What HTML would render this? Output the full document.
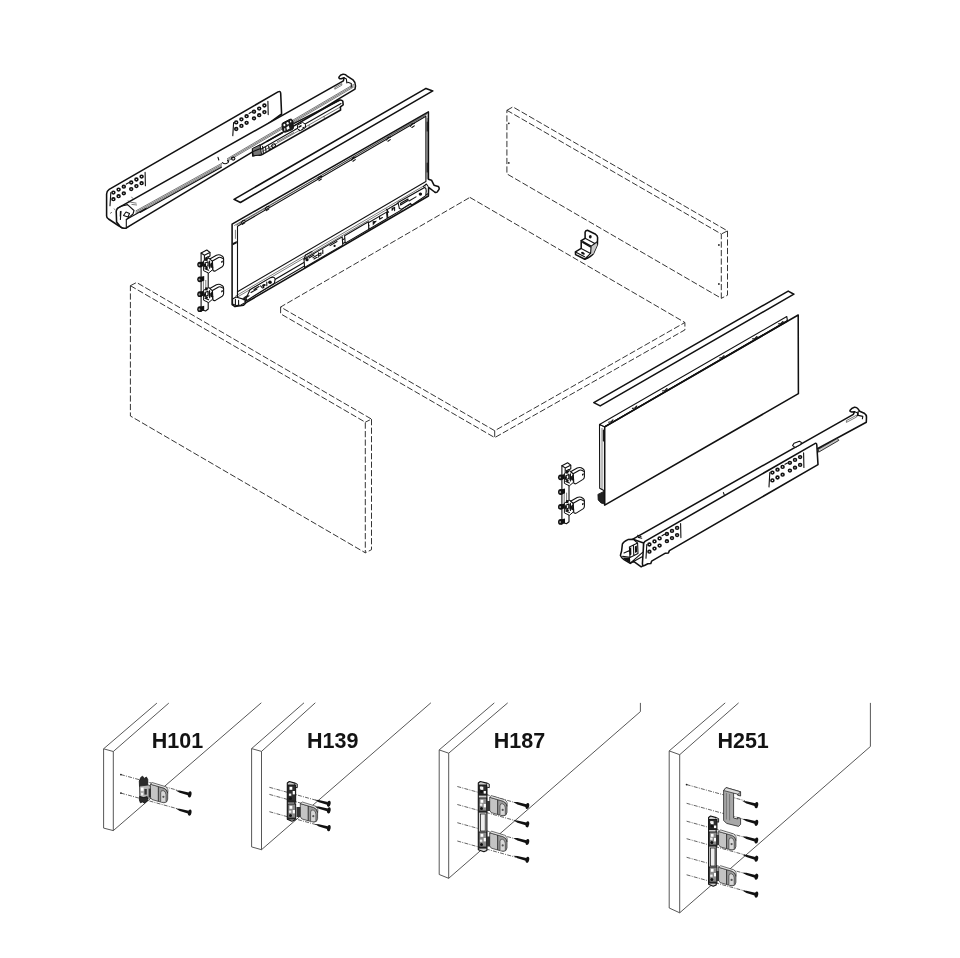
<!DOCTYPE html>
<html><head><meta charset="utf-8"><title>Drawer exploded view</title>
<style>
html,body{margin:0;padding:0;background:#fff;}
body{width:960px;height:958px;overflow:hidden;font-family:"Liberation Sans",sans-serif;}
svg{display:block}
.d{fill:none;stroke:#2a2a2a;stroke-width:.95;stroke-dasharray:6.2 2.3;}
.dw{fill:#fff;stroke:#2a2a2a;stroke-width:.95;stroke-dasharray:6.2 2.3;}
.k{fill:none;stroke:#111;stroke-width:1.55;stroke-linejoin:round;stroke-linecap:round;}
.kw{fill:#fff;stroke:#111;stroke-width:1.55;stroke-linejoin:round;stroke-linecap:round;}
.m{fill:none;stroke:#111;stroke-width:1.1;stroke-linejoin:round;stroke-linecap:round;}
.mw{fill:#fff;stroke:#111;stroke-width:1.1;stroke-linejoin:round;}
.t{fill:none;stroke:#222;stroke-width:.6;stroke-linejoin:round;}
.tw{fill:#fff;stroke:#222;stroke-width:.6;stroke-linejoin:round;}
.g{fill:none;stroke:#444;stroke-width:.9;}
.gw{fill:#fff;stroke:#444;stroke-width:.9;}
.b{fill:#111;stroke:none;}
.gr{fill:#aaa;stroke:#222;stroke-width:.7;stroke-linejoin:round;}
.dd{fill:none;stroke:#222;stroke-width:.7;stroke-dasharray:4 1.2 1 1.2;}
.lbl{font:bold 22px "Liberation Sans",sans-serif;fill:#111;}
</style></head><body>
<svg width="960" height="958" viewBox="0 0 960 958">
<rect width="960" height="958" fill="#fff"/>
<g id="panels">
<path class="d" d="M506.9,110.3 L721.3,234.0 L721.3,298.3 L506.9,173.9 Z" />
<path class="d" d="M506.9,110.3 L512.9,106.9 L727.5,230.9 L721.3,234.0" />
<path class="d" d="M727.5,230.9 L727.5,295.2 L721.3,298.3" />
<circle cx="508.8" cy="123.3" r=".9" fill="#222"/>
<circle cx="508.8" cy="162.9" r=".9" fill="#222"/>
<circle cx="718.9" cy="245" r=".9" fill="#222"/>
<circle cx="718.9" cy="284" r=".9" fill="#222"/>
<path class="d" d="M469.9,197.4 L684.9,322.5 L494.7,430.7 L280.6,307.0 Z" />
<path class="d" d="M280.6,307.0 L280.6,313.8 L494.7,437.6 L684.9,329.9 L684.9,322.5" />
<line class="d" x1="494.7" y1="430.7" x2="494.7" y2="437.6" />
<path class="d" d="M130.4,285.7 L365.3,422.2 L365.3,552.8 L130.4,416.0 Z" />
<path class="d" d="M130.4,285.7 L136.6,282.5 L371.5,419.1 L365.3,422.2" />
<path class="d" d="M371.5,419.1 L371.5,549.7 L365.3,552.8" />
</g>
<g id="runnerL">
<path class="kw" d="M106.6,216 L106.6,194 Q106.6,191 109.2,189.3 L278,91.9 Q280.6,90.5 280.7,93.5 L281.6,114 L126,228 Q122,229 119,226 L108.5,219 Q106.6,217.6 106.6,216 Z"/>
<ellipse cx="113.4" cy="192.6" rx="1.45" ry="1.35" fill="#fff" stroke="#111" stroke-width="1.6"/>
<ellipse cx="118.6" cy="189.6" rx="1.45" ry="1.35" fill="#fff" stroke="#111" stroke-width="1.6"/>
<ellipse cx="123.8" cy="186.7" rx="1.45" ry="1.35" fill="#fff" stroke="#111" stroke-width="1.6"/>
<ellipse cx="131.2" cy="182.5" rx="1.45" ry="1.35" fill="#fff" stroke="#111" stroke-width="1.6"/>
<ellipse cx="136.4" cy="179.5" rx="1.45" ry="1.35" fill="#fff" stroke="#111" stroke-width="1.6"/>
<ellipse cx="141.6" cy="176.6" rx="1.45" ry="1.35" fill="#fff" stroke="#111" stroke-width="1.6"/>
<ellipse cx="113.4" cy="199.2" rx="1.45" ry="1.35" fill="#fff" stroke="#111" stroke-width="1.6"/>
<ellipse cx="118.6" cy="196.2" rx="1.45" ry="1.35" fill="#fff" stroke="#111" stroke-width="1.6"/>
<ellipse cx="123.8" cy="193.3" rx="1.45" ry="1.35" fill="#fff" stroke="#111" stroke-width="1.6"/>
<ellipse cx="131.2" cy="189.1" rx="1.45" ry="1.35" fill="#fff" stroke="#111" stroke-width="1.6"/>
<ellipse cx="136.4" cy="186.1" rx="1.45" ry="1.35" fill="#fff" stroke="#111" stroke-width="1.6"/>
<ellipse cx="141.6" cy="183.2" rx="1.45" ry="1.35" fill="#fff" stroke="#111" stroke-width="1.6"/>
<line class="m" x1="126.3" y1="184.1" x2="128.7" y2="182.7" />
<line class="m" x1="110.8" y1="192.6" x2="110.0" y2="205.7" stroke-width="1.6"/>
<line class="m" x1="145.1" y1="172.4" x2="145.4" y2="185.8" stroke-width="1.7"/>
<ellipse cx="236.2" cy="122.4" rx="1.45" ry="1.35" fill="#fff" stroke="#111" stroke-width="1.6"/>
<ellipse cx="241.4" cy="119.3" rx="1.45" ry="1.35" fill="#fff" stroke="#111" stroke-width="1.6"/>
<ellipse cx="246.6" cy="116.2" rx="1.45" ry="1.35" fill="#fff" stroke="#111" stroke-width="1.6"/>
<ellipse cx="254.0" cy="111.7" rx="1.45" ry="1.35" fill="#fff" stroke="#111" stroke-width="1.6"/>
<ellipse cx="259.2" cy="108.6" rx="1.45" ry="1.35" fill="#fff" stroke="#111" stroke-width="1.6"/>
<ellipse cx="264.4" cy="105.5" rx="1.45" ry="1.35" fill="#fff" stroke="#111" stroke-width="1.6"/>
<ellipse cx="236.2" cy="129.0" rx="1.45" ry="1.35" fill="#fff" stroke="#111" stroke-width="1.6"/>
<ellipse cx="241.4" cy="125.9" rx="1.45" ry="1.35" fill="#fff" stroke="#111" stroke-width="1.6"/>
<ellipse cx="246.6" cy="122.8" rx="1.45" ry="1.35" fill="#fff" stroke="#111" stroke-width="1.6"/>
<ellipse cx="254.0" cy="118.3" rx="1.45" ry="1.35" fill="#fff" stroke="#111" stroke-width="1.6"/>
<ellipse cx="259.2" cy="115.2" rx="1.45" ry="1.35" fill="#fff" stroke="#111" stroke-width="1.6"/>
<ellipse cx="264.4" cy="112.1" rx="1.45" ry="1.35" fill="#fff" stroke="#111" stroke-width="1.6"/>
<line class="m" x1="249.1" y1="113.4" x2="251.5" y2="112.0" />
<line class="m" x1="233.6" y1="122.5" x2="232.8" y2="135.6" stroke-width="1.6"/>
<line class="m" x1="267.9" y1="101.2" x2="268.2" y2="114.6" stroke-width="1.7"/>
<path class="kw" d="M117.4,208.4 L343.4,80.8 L344,77.8 L341.2,78.7 Q338.4,78.8 339,77 Q340.2,74.8 343,74.3 Q345.4,74.1 346.8,75.8 L353,79.8 Q355.4,81.8 355.5,85.9 L355,89.2 L340.8,97.6 L253,151.6 L126.3,227.9 Q122.5,229 120,226.3 L116.6,222 L116.2,211 Z"/>
<path class="m" d="M344,77.8 L346.4,79 L346.8,83 M347.8,82.2 L351.3,83.4 L351.3,87"/>
<path class="t" d="M334.8,87.6 L341.8,83.6 L341.8,85.2 L334.8,89.2 Z" fill="#bbb"/>
<line class="t" x1="135.6" y1="211.0" x2="222.0" y2="163.2" stroke="#666" stroke-width=".5"/>
<line class="t" x1="227.0" y1="158.9" x2="353.8" y2="84.3" stroke="#666" stroke-width=".5"/>
<line class="t" x1="135.6" y1="212.3" x2="222.0" y2="164.5" stroke="#666" stroke-width=".5"/>
<line class="t" x1="227.0" y1="160.2" x2="353.8" y2="85.6" stroke="#666" stroke-width=".5"/>
<line class="t" x1="135.6" y1="213.6" x2="222.0" y2="165.8" stroke="#666" stroke-width=".5"/>
<line class="t" x1="227.0" y1="161.5" x2="353.8" y2="86.9" stroke="#666" stroke-width=".5"/>
<line class="m" x1="140.0" y1="212.4" x2="221.4" y2="167.2" stroke-width=".9"/>
<line class="m" x1="126.3" y1="219.6" x2="146.0" y2="208.4" />
<path class="m" d="M117.4,208.4 L121,206.2 L127.5,204.6 L134,210.5 L133,214 L126.3,219.6 L126.3,227.5 M121,211.5 L120.4,219.5 M123.5,215.5 L126,212 L129.5,213.5 L128,217 Z"/>
<path class="t" d="M130.5,202.2 L136.5,203.2 M131.5,204.4 L137,205 M128,200.4 L130,202.6"/>
<path class="b" d="M119.9,211.2 l1.3,-.5 l-.4,5.5 l-1.1,.3 Z"/>
<line class="t" x1="110.0" y1="213.5" x2="112.0" y2="212.2" />
<line class="t" x1="114.0" y1="208.5" x2="115.2" y2="210.0" />
<line class="t" x1="131.5" y1="196.8" x2="132.8" y2="198.6" />
<path class="m" d="M218,157.4 L218.8,160 M222.4,162.6 Q225,164.8 228,162.6 Q229.4,161.2 227.6,160.4"/>
<ellipse cx="233.2" cy="158.6" rx="1.7" ry="1.5" class="m"/>
<path class="kw" d="M252.6,150.2 L256,147.6 L338,100.6 Q341.5,99.2 342.8,101.2 L343.2,104.8 L340.4,106.8 L340.6,110 L262,154.6 Q259.5,155.6 257.5,154.6 L252.8,156 Z"/>
<line class="m" x1="256.5" y1="151.8" x2="341.0" y2="103.6" />
<line class="t" x1="262.5" y1="151.4" x2="340.0" y2="107.2" />
<line class="k" x1="294.0" y1="123.4" x2="339.5" y2="100.4" stroke-width="2"/>
<path d="M282,124.4 Q281.8,123.4 283,122.8 L290,119.2 Q291.4,118.8 292.4,120 L293,121.4 L293.4,128 Q293.2,129 292.4,129.6 L285.4,132.2 Q284.2,132.4 283.4,131.4 L282.4,129.6 Z" fill="#1c1c1c" stroke="#111" stroke-width="1" stroke-linejoin="round"/>
<ellipse cx="284.4" cy="125" rx="1" ry="1.3" fill="#fff"/><ellipse cx="287.6" cy="123.2" rx="1.1" ry="1.3" fill="#fff"/><ellipse cx="290.7" cy="121.6" rx=".7" ry="1" fill="#fff"/>
<path d="M286.4,127.4 L288.6,125.6 L289.6,128.6 L287,130 Z" fill="#fff"/><path d="M284,128.6 l1.2,-.6 l.3,2.4 l-1.2,.5 Z" fill="#ddd"/>
<path d="M297.4,125.2 L302.6,122.4 L305.4,124.2 L305.6,127.6 L300.4,130.6 L297.6,129 Z" fill="#fff" stroke="#111" stroke-width="1"/>
<path class="b" d="M298.4,126.4 l3,-1.6 l.2,1.6 l-3,1.6 Z M302.4,127.6 l2.2,-1.2 l0,1.4 l-2.2,1.2 Z"/>
<circle cx="295.4" cy="129.4" r=".6" class="b"/><circle cx="299.6" cy="130.6" r=".6" class="b"/><circle cx="302" cy="129.8" r=".5" class="b"/>
<path d="M252.2,148.6 L260,144.8 L261.6,154.8 L253.4,155.8 Z" fill="#777" stroke="#111" stroke-width="1"/>
<path class="m" d="M253,151.6 L260.6,148.4 M262.6,146.4 L263.4,153.6 M265.6,147.6 L266,151.4 M268.6,146 L269.2,149.6 L270.8,148.6"/>
<ellipse cx="273.6" cy="145.6" rx="2" ry="1.7" class="m" transform="rotate(-30 273.6 145.6)"/>
<line class="k" x1="267.0" y1="141.4" x2="282.4" y2="132.8" stroke-width="2"/>
<line class="t" x1="277.0" y1="141.8" x2="294.0" y2="132.4" />
<line class="t" x1="309.0" y1="125.0" x2="309.3" y2="127.2" />
<line class="t" x1="324.0" y1="116.2" x2="324.3" y2="118.2" />
</g>
<g id="sideL">
<path class="kw" d="M234.0,199.3 L426.0,88.4 L432.8,90.9 L240.4,202.5 Z" />
<path class="kw" d="M232.1,224.1 L428.4,111.9 L428.4,179.2 L431.5,180.2 L434,185.2 L438.2,186.4 Q439.6,187.6 439,189.4 L437.2,192 Q436,193 434.6,192 L428.6,187.4 L428.4,196 L246,302.6 L243.5,305.2 L235,306.6 L232.1,304.6 Z"/>
<path class="mw" d="M237.5,226.3 L425.9,116.3 L425.9,181.5 L237.5,291.8 Z" />
<line class="t" x1="234.2" y1="225.6" x2="426.8" y2="114.6" />
<line class="t" x1="236.4" y1="225.2" x2="427.4" y2="113.4" stroke="#777"/>
<path class="m" d="M241.0,223.2 L242.6,220.8 L245.0,220.2 M242.4,224.4 L244.8,222.8" stroke-width="1.3"/>
<path class="m" d="M265.0,209.4 L266.6,207.0 L269.0,206.4 M266.4,210.6 L268.8,209.0" stroke-width="1.3"/>
<path class="m" d="M317.6,179.4 L319.2,177.0 L321.6,176.4 M319.0,180.6 L321.4,179.0" stroke-width="1.3"/>
<path class="m" d="M351.5,160.0 L353.1,157.6 L355.5,157.0 M352.9,161.2 L355.3,159.6" stroke-width="1.3"/>
<path class="m" d="M386.5,140.0 L388.1,137.6 L390.5,137.0 M387.9,141.2 L390.3,139.6" stroke-width="1.3"/>
<path class="m" d="M410.5,126.3 L412.1,123.9 L414.5,123.3 M411.9,127.5 L414.3,125.9" stroke-width="1.3"/>
<line class="t" x1="427.2" y1="118.0" x2="427.2" y2="179.0" stroke="#666"/>
<line class="m" x1="427.2" y1="122.0" x2="427.2" y2="131.0" stroke-width="1.4"/>
<line class="m" x1="427.2" y1="163.0" x2="427.2" y2="172.0" stroke-width="1.4"/>
<line class="t" x1="235.4" y1="229.8" x2="235.4" y2="238.8" />
<path class="b" d="M232.8,243 L236.8,241 L236.8,243.2 L232.8,245.2 Z"/>
<line class="m" x1="237.5" y1="291.8" x2="237.5" y2="297.0" />
<line class="t" x1="235.4" y1="296.2" x2="426.0" y2="184.6" />
<line class="t" x1="238.0" y1="296.7" x2="426.0" y2="186.6" stroke="#555"/>
<line class="m" x1="244.0" y1="297.6" x2="426.0" y2="191.0" />
<line class="m" x1="243.8" y1="301.5" x2="428.0" y2="193.7" stroke-width="1.3"/>
<line class="m" x1="237.5" y1="291.8" x2="237.5" y2="297.0" />
<path class="mw" d="M232.6,299 L236,297 L245,299.6 L245.4,302.4 L241,305 L236,305.6 L232.6,304 Z"/>
<path class="m" d="M235.4,299.4 L235.4,304.4 M238.6,300.4 L238.6,304.8 M244,300 L250,296.6 Q252,296.6 250.6,298.4 L245,301.6"/>
<path class="mw" d="M250.0,289.7 L270.6,277.6 Q275.4,276.2 275.0,279.8 L274.4,283.2 L247.0,300.4 L246.0,298.4 Z"/>
<circle cx="270" cy="282.2" r="1.8" class="b"/><circle cx="264.6" cy="285.1" r="1.1" class="b"/>
<path class="m" d="M254.0,289.5 L259.0,286.6 M260.6,285.9 L262.4,288.0 M266.8,282.0 L266.8,285.6"/>
<path class="b" d="M262.0,285.1 L264.0,283.9 L264.4,287.7 L263.0,288.5 Z"/>
<line class="m" x1="251.0" y1="292.5" x2="257.0" y2="289.0" stroke-width="1.6"/>
<line class="m" x1="243.0" y1="299.2" x2="249.0" y2="295.7" stroke-width="1.6"/>
<path class="mw" d="M304.0,259.3 L342.2,236.9 L342.8,245.1 L304.6,267.5 Z"/>
<circle cx="307" cy="259.7" r="1.6" class="b"/><circle cx="334.6" cy="245.9" r="1.1" class="b"/>
<line class="m" x1="309.0" y1="257.9" x2="314.0" y2="255.0" stroke-width="1.6"/>
<path class="m" d="M313.0,257.6 L321.0,252.9 L321.0,254.9 L314.0,259.0 M318.6,252.7 L318.6,256.9 M322.8,249.9 L322.8,253.5 M330.0,245.6 L337.0,241.5"/>
<path class="m" d="M304.0,259.3 L305.6,254.9 L312.0,251.6"/>
<path class="mw" d="M344.6,235.7 L368.4,221.8 L369.0,229.2 L345.2,243.1 Z"/>
<path class="mw" d="M368.4,222.8 L386.6,212.1 L387.2,218.6 L369.0,229.2 Z"/>
<path class="b" d="M372.6,221.3 L377.0,220.7 L372.8,225.6 Z"/>
<path class="m" d="M379.6,216.4 L379.6,219.2 L382.4,217.6"/>
<line class="m" x1="368.6" y1="225.5" x2="369.0" y2="225.3" />
<path class="mw" d="M387.2,209.6 L401.0,201.5 L401.6,209.9 L387.8,218.0 Z"/>
<path class="m" d="M392.4,208.7 L394.6,207.4 L394.6,210.6 M386.4,209.2 L388.6,212.3"/>
<path class="b" d="M391.6,208.2 L393.4,207.1 L393.4,209.9 L391.6,211.0 Z"/>
<path class="mw" d="M398.0,202.4 L424.6,187.5 Q426.4,188.2 426.2,190.7 L425.8,195.6 L411.6,205.3 L410.6,203.4 L401.6,209.3 L399.4,208.6 Z"/>
<circle cx="420.4" cy="194.1" r="1.7" class="b"/>
<path class="m" d="M400.6,203.3 L408.0,199.0 L408.0,200.6 L400.6,204.9 Z M409.0,201.0 L416.0,196.9"/>
<path class="m" d="M423.4,186.6 L426.4,184.0 L428.0,186.3"/>
</g>
<g id="right">
<path class="kw" d="M593.8,402.6 L788.2,291.1 L793.9,294.2 L600.2,405.9 Z" />
<path class="mw" d="M599.5,424.4 L604.7,426.8 L604.7,491 L599.7,488.2 Z"/>
<line class="t" x1="602.0" y1="428.0" x2="602.0" y2="490.0" />
<line class="m" x1="603.4" y1="430.0" x2="603.4" y2="441.0" stroke-width="1.3"/>
<path d="M597.9,494.4 L604.2,491.2 L604.6,504 L601,503 L598.2,500 Z" fill="#222" stroke="#111" stroke-width=".8"/>
<path class="mw" d="M599.5,424.4 L786.8,316.6 L787.4,320.6 L604.7,426.8 Z"/>
<path class="kw" d="M604.7,426.8 L798.2,315.0 L798.4,393.7 L604.7,505.2 Z" />
<line class="k" x1="604.7" y1="426.8" x2="787.4" y2="321.2" stroke-width="1.7"/>
<path class="m" d="M608.6,422.2 L611.0,421.8 L613.0,419.8" stroke-width="1.4"/>
<path class="m" d="M632.4,408.4 L634.8,408.0 L636.8,406.0" stroke-width="1.4"/>
<path class="m" d="M662.6,390.9 L665.0,390.5 L667.0,388.5" stroke-width="1.4"/>
<path class="m" d="M719.6,358.0 L722.0,357.6 L724.0,355.6" stroke-width="1.4"/>
<path class="m" d="M752.6,338.9 L755.0,338.5 L757.0,336.5" stroke-width="1.4"/>
<path class="m" d="M778.6,323.9 L781.0,323.5 L783.0,321.5" stroke-width="1.4"/>
<path class="kw" d="M632.9,539.2 L853.4,414.3 L854.5,411.7 L851.6,412 Q849.4,411.6 850.2,410.2 Q851.6,408 854.4,407.2 Q856.6,407 857.8,408.6 L859.7,411.2 L864.2,413.2 Q866.4,414.8 866.5,417 L866.3,422.2 L818.3,448.2 L640,552 Z"/>
<path class="m" d="M854.5,411.7 L857.4,412.8 L857.6,415.6 M858.2,411.4 L858.2,415.4 L862.8,416.4 L862.4,418.8"/>
<path class="t" d="M846.4,420.6 L856.6,415.2 L856.6,417 L846.4,422.4 Z" fill="#aaa"/>
<path d="M818.4,449.2 L837.4,438.4 L838.8,440.4 L818.6,452.2 Z" fill="#c4c4c4" stroke="#222" stroke-width=".9"/>
<path class="mw" d="M792.6,445.6 L794,443.2 L799.4,441.2 L801.4,442.4 L800.6,444.6 L795,447.4 Z"/>
<path class="kw" d="M632.9,539.2 L628,539.6 Q623.4,541.6 622.4,544 L621.6,551 L620.4,555.4 Q621,557.6 624,559.6 L630.3,563.4 L633.6,561.4 L641.2,566.8 L644,565 L643.6,543 Z"/>
<path class="m" d="M629.4,547 L637.6,543 L638,553.6 L630,557.4 Z M633.4,545.2 L633.8,555.4 M624,553 L629.6,550.4 M622.6,556.4 L630,557.4 M630.3,563.2 L642.6,552.4 M634,561.2 L642.6,556.4 M637.6,543 L634.4,540.4"/>
<path class="b" d="M634.8,546.4 l2,-.9 l.3,6.6 l-2,1 Z M629.6,548 l1.6,-.8 l.2,7.4 l-1.6,.8 Z"/>
<path class="b" d="M623,557.4 L630,558 L630.4,563 L624.4,559.6 Z"/>
<path class="m" d="M637.6,535.2 L641,536.4 M638.4,537.4 L641.8,538.2" stroke-width="1.3"/>
<path class="kw" d="M643.6,545 Q643.4,542.6 645,541.4 L814.4,443.8 Q816.6,442.4 816.8,445 L818,464.6 L669.4,550.6 L668.4,553 L665.4,553.2 L651.6,561.2 L650.8,563.6 L647.8,563.8 L645.4,565 Q642.6,566.8 642.4,563.6 Z"/>
<ellipse cx="649.4" cy="544.5" rx="1.45" ry="1.35" fill="#fff" stroke="#111" stroke-width="1.6"/>
<ellipse cx="654.5" cy="541.4" rx="1.45" ry="1.35" fill="#fff" stroke="#111" stroke-width="1.6"/>
<ellipse cx="659.6" cy="538.4" rx="1.45" ry="1.35" fill="#fff" stroke="#111" stroke-width="1.6"/>
<ellipse cx="666.9" cy="534.0" rx="1.45" ry="1.35" fill="#fff" stroke="#111" stroke-width="1.6"/>
<ellipse cx="672.0" cy="530.9" rx="1.45" ry="1.35" fill="#fff" stroke="#111" stroke-width="1.6"/>
<ellipse cx="677.1" cy="527.9" rx="1.45" ry="1.35" fill="#fff" stroke="#111" stroke-width="1.6"/>
<ellipse cx="649.4" cy="551.7" rx="1.45" ry="1.35" fill="#fff" stroke="#111" stroke-width="1.6"/>
<ellipse cx="654.5" cy="548.6" rx="1.45" ry="1.35" fill="#fff" stroke="#111" stroke-width="1.6"/>
<ellipse cx="659.6" cy="545.6" rx="1.45" ry="1.35" fill="#fff" stroke="#111" stroke-width="1.6"/>
<ellipse cx="666.9" cy="541.2" rx="1.45" ry="1.35" fill="#fff" stroke="#111" stroke-width="1.6"/>
<ellipse cx="672.0" cy="538.1" rx="1.45" ry="1.35" fill="#fff" stroke="#111" stroke-width="1.6"/>
<ellipse cx="677.1" cy="535.1" rx="1.45" ry="1.35" fill="#fff" stroke="#111" stroke-width="1.6"/>
<line class="m" x1="662.0" y1="535.7" x2="664.5" y2="534.3" />
<line class="m" x1="646.8" y1="544.6" x2="646.0" y2="558.3" stroke-width="1.6"/>
<line class="m" x1="680.6" y1="523.6" x2="680.9" y2="537.6" stroke-width="1.7"/>
<ellipse cx="772.4" cy="472.6" rx="1.45" ry="1.35" fill="#fff" stroke="#111" stroke-width="1.6"/>
<ellipse cx="777.5" cy="469.7" rx="1.45" ry="1.35" fill="#fff" stroke="#111" stroke-width="1.6"/>
<ellipse cx="782.6" cy="466.9" rx="1.45" ry="1.35" fill="#fff" stroke="#111" stroke-width="1.6"/>
<ellipse cx="789.9" cy="462.8" rx="1.45" ry="1.35" fill="#fff" stroke="#111" stroke-width="1.6"/>
<ellipse cx="795.0" cy="459.9" rx="1.45" ry="1.35" fill="#fff" stroke="#111" stroke-width="1.6"/>
<ellipse cx="800.1" cy="457.1" rx="1.45" ry="1.35" fill="#fff" stroke="#111" stroke-width="1.6"/>
<ellipse cx="772.4" cy="480.4" rx="1.45" ry="1.35" fill="#fff" stroke="#111" stroke-width="1.6"/>
<ellipse cx="777.5" cy="477.5" rx="1.45" ry="1.35" fill="#fff" stroke="#111" stroke-width="1.6"/>
<ellipse cx="782.6" cy="474.7" rx="1.45" ry="1.35" fill="#fff" stroke="#111" stroke-width="1.6"/>
<ellipse cx="789.9" cy="470.6" rx="1.45" ry="1.35" fill="#fff" stroke="#111" stroke-width="1.6"/>
<ellipse cx="795.0" cy="467.7" rx="1.45" ry="1.35" fill="#fff" stroke="#111" stroke-width="1.6"/>
<ellipse cx="800.1" cy="464.9" rx="1.45" ry="1.35" fill="#fff" stroke="#111" stroke-width="1.6"/>
<line class="m" x1="785.0" y1="464.3" x2="787.5" y2="462.9" />
<line class="m" x1="769.8" y1="472.6" x2="769.0" y2="486.9" stroke-width="1.6"/>
<line class="m" x1="803.6" y1="452.9" x2="803.9" y2="467.5" stroke-width="1.7"/>
<line class="m" x1="723.4" y1="492.6" x2="724.2" y2="494.6" />
</g>
<g id="fix">
<g transform="translate(0,0)">
<path class="mw" d="M201.1,253 L206.8,250 L210,252.4 L210,256 L208.2,257 L208.2,309 L205.6,311 L201.1,309.4 Z"/>
<path class="m" d="M201.1,253 L204.4,255.2 L204.4,260 M204.4,255.2 L209.8,252.6 M205.6,258 L208,256.8"/>
<path class="t" d="M203.4,281 L203.4,293 M205.8,280 L205.8,292"/>
<ellipse cx="199.9" cy="264.6" rx="2.7" ry="2.9" class="b"/>
<path class="b" d="M200,262.20000000000005 L204.2,261.20000000000005 L204.2,266.0 L200,267.20000000000005 Z"/>
<ellipse cx="199.4" cy="264.8" rx=".9" ry="1.1" fill="#999"/>
<ellipse cx="199.9" cy="279.3" rx="2.7" ry="2.9" class="b"/>
<path class="b" d="M200,276.90000000000003 L204.2,275.90000000000003 L204.2,280.7 L200,281.90000000000003 Z"/>
<ellipse cx="199.4" cy="279.5" rx=".9" ry="1.1" fill="#999"/>
<ellipse cx="199.9" cy="294.2" rx="2.7" ry="2.9" class="b"/>
<path class="b" d="M200,291.8 L204.2,290.8 L204.2,295.59999999999997 L200,296.8 Z"/>
<ellipse cx="199.4" cy="294.4" rx=".9" ry="1.1" fill="#999"/>
<ellipse cx="199.9" cy="309.2" rx="2.7" ry="2.9" class="b"/>
<path class="b" d="M200,306.8 L204.2,305.8 L204.2,310.59999999999997 L200,311.8 Z"/>
<ellipse cx="199.4" cy="309.4" rx=".9" ry="1.1" fill="#999"/>
<path d="M203.6,260.7 L209,258.09999999999997 L212.4,260.09999999999997 L212.6,269.7 L208.6,273.09999999999997 L203.6,270.7 Z" fill="#fff" stroke="#111" stroke-width="1"/>
<path class="m" d="M205,263.09999999999997 L208,261.7 L208,265.7 L205,267.09999999999997 Z M209.6,261.09999999999997 L209.6,268.3 M205,268.7 L208.6,270.3"/>
<circle cx="206.6" cy="268.09999999999997" r="1.3" class="b"/><rect x="205.2" y="257.9" width="2.4" height="3" class="b"/>
<path class="b" d="M204,264.3 l2,-1 l0,2.6 l-2,1 Z M208.6,262.09999999999997 l1.4,-.6 l0,5 l-1.4,.8 Z M210.4,263.7 l1.6,-.8 l.2,4 l-1.6,1 Z"/>
<path class="mw" d="M209.8,259.09999999999997 L216.4,255.29999999999998 Q218.4,254.29999999999998 220.4,255.1 L222.4,256.3 Q223.6,257.09999999999997 223.6,258.7 L223.6,264.09999999999997 Q223.6,265.7 222.2,266.7 L215.4,270.9 Q214,271.5 213,270.5 L212.4,261.09999999999997 Z"/>
<path class="m" d="M212.4,261.09999999999997 L218.6,257.5 Q220,256.9 221.4,257.7 L223.4,258.9 M212.2,262.7 Q210.6,263.7 210.8,265.7 Q211.4,267.7 212.8,267.09999999999997"/>
<path class="b" d="M221.2,261.3 l1.6,-.8 l0,1.8 l-1.6,.8 Z"/>
<path d="M203.6,290.2 L209,287.59999999999997 L212.4,289.59999999999997 L212.6,299.2 L208.6,302.59999999999997 L203.6,300.2 Z" fill="#fff" stroke="#111" stroke-width="1"/>
<path class="m" d="M205,292.59999999999997 L208,291.2 L208,295.2 L205,296.59999999999997 Z M209.6,290.59999999999997 L209.6,297.8 M205,298.2 L208.6,299.8"/>
<circle cx="206.6" cy="297.59999999999997" r="1.3" class="b"/><rect x="205.2" y="287.4" width="2.4" height="3" class="b"/>
<path class="b" d="M204,293.8 l2,-1 l0,2.6 l-2,1 Z M208.6,291.59999999999997 l1.4,-.6 l0,5 l-1.4,.8 Z M210.4,293.2 l1.6,-.8 l.2,4 l-1.6,1 Z"/>
<path class="mw" d="M209.8,288.59999999999997 L216.4,284.8 Q218.4,283.8 220.4,284.59999999999997 L222.4,285.8 Q223.6,286.59999999999997 223.6,288.2 L223.6,293.59999999999997 Q223.6,295.2 222.2,296.2 L215.4,300.4 Q214,301.0 213,300.0 L212.4,290.59999999999997 Z"/>
<path class="m" d="M212.4,290.59999999999997 L218.6,287.0 Q220,286.4 221.4,287.2 L223.4,288.4 M212.2,292.2 Q210.6,293.2 210.8,295.2 Q211.4,297.2 212.8,296.59999999999997"/>
<path class="b" d="M221.2,290.8 l1.6,-.8 l0,1.8 l-1.6,.8 Z"/>
</g>
<g transform="translate(360.8,212.7)">
<path class="mw" d="M201.1,253 L206.8,250 L210,252.4 L210,256 L208.2,257 L208.2,309 L205.6,311 L201.1,309.4 Z"/>
<path class="m" d="M201.1,253 L204.4,255.2 L204.4,260 M204.4,255.2 L209.8,252.6 M205.6,258 L208,256.8"/>
<path class="t" d="M203.4,281 L203.4,293 M205.8,280 L205.8,292"/>
<ellipse cx="199.9" cy="264.6" rx="2.7" ry="2.9" class="b"/>
<path class="b" d="M200,262.20000000000005 L204.2,261.20000000000005 L204.2,266.0 L200,267.20000000000005 Z"/>
<ellipse cx="199.4" cy="264.8" rx=".9" ry="1.1" fill="#999"/>
<ellipse cx="199.9" cy="279.3" rx="2.7" ry="2.9" class="b"/>
<path class="b" d="M200,276.90000000000003 L204.2,275.90000000000003 L204.2,280.7 L200,281.90000000000003 Z"/>
<ellipse cx="199.4" cy="279.5" rx=".9" ry="1.1" fill="#999"/>
<ellipse cx="199.9" cy="294.2" rx="2.7" ry="2.9" class="b"/>
<path class="b" d="M200,291.8 L204.2,290.8 L204.2,295.59999999999997 L200,296.8 Z"/>
<ellipse cx="199.4" cy="294.4" rx=".9" ry="1.1" fill="#999"/>
<ellipse cx="199.9" cy="309.2" rx="2.7" ry="2.9" class="b"/>
<path class="b" d="M200,306.8 L204.2,305.8 L204.2,310.59999999999997 L200,311.8 Z"/>
<ellipse cx="199.4" cy="309.4" rx=".9" ry="1.1" fill="#999"/>
<path d="M203.6,260.7 L209,258.09999999999997 L212.4,260.09999999999997 L212.6,269.7 L208.6,273.09999999999997 L203.6,270.7 Z" fill="#fff" stroke="#111" stroke-width="1"/>
<path class="m" d="M205,263.09999999999997 L208,261.7 L208,265.7 L205,267.09999999999997 Z M209.6,261.09999999999997 L209.6,268.3 M205,268.7 L208.6,270.3"/>
<circle cx="206.6" cy="268.09999999999997" r="1.3" class="b"/><rect x="205.2" y="257.9" width="2.4" height="3" class="b"/>
<path class="b" d="M204,264.3 l2,-1 l0,2.6 l-2,1 Z M208.6,262.09999999999997 l1.4,-.6 l0,5 l-1.4,.8 Z M210.4,263.7 l1.6,-.8 l.2,4 l-1.6,1 Z"/>
<path class="mw" d="M209.8,259.09999999999997 L216.4,255.29999999999998 Q218.4,254.29999999999998 220.4,255.1 L222.4,256.3 Q223.6,257.09999999999997 223.6,258.7 L223.6,264.09999999999997 Q223.6,265.7 222.2,266.7 L215.4,270.9 Q214,271.5 213,270.5 L212.4,261.09999999999997 Z"/>
<path class="m" d="M212.4,261.09999999999997 L218.6,257.5 Q220,256.9 221.4,257.7 L223.4,258.9 M212.2,262.7 Q210.6,263.7 210.8,265.7 Q211.4,267.7 212.8,267.09999999999997"/>
<path class="b" d="M221.2,261.3 l1.6,-.8 l0,1.8 l-1.6,.8 Z"/>
<path d="M203.6,290.2 L209,287.59999999999997 L212.4,289.59999999999997 L212.6,299.2 L208.6,302.59999999999997 L203.6,300.2 Z" fill="#fff" stroke="#111" stroke-width="1"/>
<path class="m" d="M205,292.59999999999997 L208,291.2 L208,295.2 L205,296.59999999999997 Z M209.6,290.59999999999997 L209.6,297.8 M205,298.2 L208.6,299.8"/>
<circle cx="206.6" cy="297.59999999999997" r="1.3" class="b"/><rect x="205.2" y="287.4" width="2.4" height="3" class="b"/>
<path class="b" d="M204,293.8 l2,-1 l0,2.6 l-2,1 Z M208.6,291.59999999999997 l1.4,-.6 l0,5 l-1.4,.8 Z M210.4,293.2 l1.6,-.8 l.2,4 l-1.6,1 Z"/>
<path class="mw" d="M209.8,288.59999999999997 L216.4,284.8 Q218.4,283.8 220.4,284.59999999999997 L222.4,285.8 Q223.6,286.59999999999997 223.6,288.2 L223.6,293.59999999999997 Q223.6,295.2 222.2,296.2 L215.4,300.4 Q214,301.0 213,300.0 L212.4,290.59999999999997 Z"/>
<path class="m" d="M212.4,290.59999999999997 L218.6,287.0 Q220,286.4 221.4,287.2 L223.4,288.4 M212.2,292.2 Q210.6,293.2 210.8,295.2 Q211.4,297.2 212.8,296.59999999999997"/>
<path class="b" d="M221.2,290.8 l1.6,-.8 l0,1.8 l-1.6,.8 Z"/>
</g>
<path class="kw" d="M585.1,232.2 Q585.4,230.6 587.4,230.3 L595.6,234.3 Q597.6,235.6 597.6,237.6 L597.4,244.5 L593.2,253.9 Q591,257 584.8,259.3 L575.6,254.6 L575.4,251.8 L581.2,248.4 L581.2,240.6 L585.1,238.3 Z" stroke-width="1.4"/>
<path d="M594.8,243.5 L597.4,244.5 L593.2,253.9 L590.6,253.4 L591.1,246.1 Z" fill="#c8c8c8" stroke="none"/>
<path class="m" d="M585.1,238.3 L594.8,243.5 L597.3,241.6 M581.2,240.6 L591.1,246.1 L594.8,243.5 M591.1,246.1 L590.6,253.4 M581.2,248.4 L590.6,253.4 L584.8,259 M575.5,252 L584.6,256.8 M582.6,242.6 L590.4,247"/>
<ellipse cx="590.3" cy="236.8" rx="1.4" ry="1.7" class="b"/>
<ellipse cx="582.9" cy="253.2" rx="2" ry="1.2" class="b" transform="rotate(28 582.9 253.2)"/>
</g>
<g id="bottom">
<path class="g" d="M103.6,748.8 L113.3,751.5 L113.3,830.6 L103.6,828.1 Z" />
<line class="g" x1="103.6" y1="748.8" x2="156.9" y2="703.1" />
<line class="g" x1="113.3" y1="751.5" x2="168.8" y2="703.1" />
<line class="g" x1="113.3" y1="830.6" x2="261.3" y2="702.8" />
<g opacity=".99"><text class="lbl" transform="translate(151.8,748.2) scale(.978,1.016)">H101</text><rect x="0" y="0" width="1" height="1" fill="none"/></g>
<line class="dd" x1="120.9" y1="774.6" x2="178.0" y2="790.4" />
<line class="dd" x1="120.9" y1="793.1" x2="178.0" y2="808.9" />
<circle cx="120.9" cy="774.6" r=".9" fill="#222"/><circle cx="120.9" cy="793.1" r=".9" fill="#222"/>
<path d="M139.3,781 L140.8,777.4 L142.6,776.2 L144.4,778.4 L146.4,777 L147.8,779.6 L147.6,786.4 L143,787.6 L139.5,786.4 Z" fill="#2a2a2a" stroke="#111" stroke-width=".8" stroke-linejoin="round"/>
<path d="M139.6,786 L148.4,785 L151,786.6 L151,797.6 L147.4,798.4 L139.8,797 Z" fill="#b4b4b4" stroke="#222" stroke-width=".8" stroke-linejoin="round"/>
<rect x="140.8" y="787.6" width="2.8" height="3.2" fill="#fff"/><rect x="144.4" y="789" width="2.4" height="5.6" fill="#333"/><rect x="141" y="793" width="2.2" height="2.4" fill="#eee"/>
<path d="M139.6,796.4 L143.6,797.6 L147.2,796.6 L147.8,800.4 L144.6,803.2 L142.4,802 L140.4,802.8 L139.4,800 Z" fill="#2a2a2a" stroke="#111" stroke-width=".8" stroke-linejoin="round"/>
<path d="M150.4,784.2 L158.4,786.5 L158.4,801.4 L151.9,799.5 L150.4,797.2 Z" fill="#c4c4c4" stroke="#222" stroke-width=".7" stroke-linejoin="round"/>
<path d="M158.4,786.5 L163.9,788.1 Q167.7,789.7 167.7,793.2 L167.7,799.2 Q167.4,802.8 163.9,802.8 L158.4,801.4 Z" fill="#9a9a9a" stroke="#222" stroke-width=".7" stroke-linejoin="round"/>
<path d="M160.7,801.8 L160.7,792.7 Q160.9,789.8 163.4,790.7 Q166.0,791.7 166.0,794.7 L166.0,801.7" fill="#d8d8d8" stroke="#222" stroke-width=".6"/>
<circle cx="163.4" cy="796.8" r="1.1" fill="#555"/>
<path d="M150.4,784.2 L152.4,782.6 L165.4,786.6 Q168.9,788.7 167.7,793.2 Q167.7,789.7 163.9,788.1 Z" fill="#e8e8e8" stroke="#222" stroke-width=".6" stroke-linejoin="round"/>
<rect x="148.6" y="788.6" width="2.4" height="8.4" fill="#333"/>
<path class="b" d="M175.7,790.4 L179.7,790.5 L188.7,792.6 L188.7,795.6 L179.7,792.8 Z"/>
<ellipse class="b" cx="189.7" cy="794.4" rx="1.8" ry="3.1" transform="rotate(10 189.7 794.4)"/>
<path class="b" d="M175.7,808.6 L179.7,808.7 L188.7,810.8 L188.7,813.8 L179.7,811.0 Z"/>
<ellipse class="b" cx="189.7" cy="812.6" rx="1.8" ry="3.1" transform="rotate(10 189.7 812.6)"/>
<path class="g" d="M251.6,748.6 L261.5,751.4 L261.5,849.7 L251.6,846.9 Z" />
<line class="g" x1="251.6" y1="748.6" x2="304.0" y2="702.8" />
<line class="g" x1="261.5" y1="751.4" x2="315.3" y2="702.8" />
<line class="g" x1="261.5" y1="849.7" x2="430.9" y2="702.8" />
<g opacity=".99"><text class="lbl" transform="translate(307.0,748.2) scale(.978,1.016)">H139</text><rect x="0" y="0" width="1" height="1" fill="none"/></g>
<line class="dd" x1="269.4" y1="787.3" x2="317.0" y2="800.5" />
<line class="dd" x1="269.4" y1="794.4" x2="317.0" y2="807.6" />
<line class="dd" x1="269.4" y1="811.7" x2="317.0" y2="824.9" />
<path d="M287.3,783.0 L289.3,781.5 L294.9,783.1 L294.9,820.0 L291.9,821.2 L287.3,819.2 Z" fill="#cfcfcf" stroke="#111" stroke-width="1.1" stroke-linejoin="round"/>
<path d="M294.9,783.1 L297.3,784.1 L297.3,787.7 L294.9,787.1" fill="#ddd" stroke="#111" stroke-width=".9" stroke-linejoin="round"/>
<rect x="287.9" y="785.0" width="7.8" height="17" fill="#2e2e2e" stroke="#111" stroke-width=".9"/>
<rect x="289.5" y="786.8" width="2.8" height="3" fill="#fff"/>
<rect x="292.7" y="791.0" width="2.2" height="3.4" fill="#fff"/>
<circle cx="290.5" cy="798.4" r="1.5" fill="#111"/>
<rect x="288.9" y="793.6" width="2.4" height="2.2" fill="#eee"/>
<rect x="287.9" y="800.6" width="7.8" height="1.6" fill="#222"/>
<rect x="287.9" y="804.0" width="7.8" height="15" fill="#8a8a8a" stroke="#111" stroke-width=".9"/>
<rect x="289.5" y="805.8" width="2.8" height="3" fill="#fff"/>
<rect x="292.7" y="810.0" width="2.2" height="3.4" fill="#fff"/>
<circle cx="290.5" cy="815.4" r="1.5" fill="#111"/>
<rect x="288.9" y="810.6" width="2.4" height="2.2" fill="#eee"/>
<rect x="287.9" y="817.6" width="7.8" height="1.6" fill="#222"/>
<path d="M300.3,803.6 L308.3,805.9 L308.3,820.8 L301.8,818.9 L300.3,816.6 Z" fill="#c4c4c4" stroke="#222" stroke-width=".7" stroke-linejoin="round"/>
<path d="M308.3,805.9 L313.8,807.5 Q317.6,809.1 317.6,812.6 L317.6,818.6 Q317.3,822.2 313.8,822.2 L308.3,820.8 Z" fill="#9a9a9a" stroke="#222" stroke-width=".7" stroke-linejoin="round"/>
<path d="M310.6,821.2 L310.6,812.1 Q310.8,809.2 313.3,810.1 Q315.9,811.1 315.9,814.1 L315.9,821.1" fill="#d8d8d8" stroke="#222" stroke-width=".6"/>
<circle cx="313.3" cy="816.2" r="1.1" fill="#555"/>
<path d="M300.3,803.6 L302.3,802.0 L315.3,806.0 Q318.8,808.1 317.6,812.6 Q317.6,809.1 313.8,807.5 Z" fill="#e8e8e8" stroke="#222" stroke-width=".6" stroke-linejoin="round"/>
<rect x="296.5" y="807" width="4" height="10" fill="#333"/>
<path class="b" d="M314.8,799.8 L318.8,799.9 L327.8,802.0 L327.8,805.0 L318.8,802.2 Z"/>
<ellipse class="b" cx="328.8" cy="803.8" rx="1.8" ry="3.1" transform="rotate(10 328.8 803.8)"/>
<path class="b" d="M314.8,806.4 L318.8,806.5 L327.8,808.6 L327.8,811.6 L318.8,808.8 Z"/>
<ellipse class="b" cx="328.8" cy="810.4" rx="1.8" ry="3.1" transform="rotate(10 328.8 810.4)"/>
<path class="b" d="M314.8,824.1 L318.8,824.2 L327.8,826.3 L327.8,829.3 L318.8,826.5 Z"/>
<ellipse class="b" cx="328.8" cy="828.1" rx="1.8" ry="3.1" transform="rotate(10 328.8 828.1)"/>
<path class="g" d="M439.2,749.9 L448.7,753.2 L448.7,878.3 L439.2,874.5 Z" />
<line class="g" x1="439.2" y1="749.9" x2="494.3" y2="702.9" />
<line class="g" x1="448.7" y1="753.2" x2="507.7" y2="702.9" />
<path class="g" d="M448.7,878.3 L640.4,711.6 L640.4,702.9" />
<g opacity=".99"><text class="lbl" transform="translate(493.8,748.2) scale(.978,1.016)">H187</text><rect x="0" y="0" width="1" height="1" fill="none"/></g>
<line class="dd" x1="457.3" y1="786.5" x2="516.0" y2="802.8" />
<line class="dd" x1="457.3" y1="804.5" x2="516.0" y2="820.8" />
<line class="dd" x1="457.3" y1="822.7" x2="516.0" y2="839.0" />
<line class="dd" x1="457.3" y1="841.0" x2="516.0" y2="857.3" />
<path d="M478.3,783.0 L480.3,781.5 L486.9,783.1 L486.9,850.5 L483.9,851.7 L478.3,849.7 Z" fill="#cfcfcf" stroke="#111" stroke-width="1.1" stroke-linejoin="round"/>
<path d="M486.9,783.1 L489.3,784.1 L489.3,787.7 L486.9,787.1" fill="#ddd" stroke="#111" stroke-width=".9" stroke-linejoin="round"/>
<rect x="478.9" y="785.0" width="7.8" height="10" fill="#2e2e2e" stroke="#111" stroke-width=".9"/>
<rect x="480.5" y="786.8" width="2.8" height="3" fill="#fff"/>
<rect x="483.7" y="791.0" width="2.2" height="3.4" fill="#fff"/>
<circle cx="481.5" cy="791.4" r="1.5" fill="#111"/>
<rect x="479.9" y="786.6" width="2.4" height="2.2" fill="#eee"/>
<rect x="478.9" y="793.6" width="7.8" height="1.6" fill="#222"/>
<rect x="478.9" y="798.0" width="7.8" height="14" fill="#8a8a8a" stroke="#111" stroke-width=".9"/>
<rect x="480.5" y="799.8" width="2.8" height="3" fill="#fff"/>
<rect x="483.7" y="804.0" width="2.2" height="3.4" fill="#fff"/>
<circle cx="481.5" cy="808.4" r="1.5" fill="#111"/>
<rect x="479.9" y="803.6" width="2.4" height="2.2" fill="#eee"/>
<rect x="478.9" y="810.6" width="7.8" height="1.6" fill="#222"/>
<rect x="478.9" y="832.0" width="7.8" height="16" fill="#8a8a8a" stroke="#111" stroke-width=".9"/>
<rect x="480.5" y="833.8" width="2.8" height="3" fill="#fff"/>
<rect x="483.7" y="838.0" width="2.2" height="3.4" fill="#fff"/>
<circle cx="481.5" cy="844.4" r="1.5" fill="#111"/>
<rect x="479.9" y="839.6" width="2.4" height="2.2" fill="#eee"/>
<rect x="478.9" y="846.6" width="7.8" height="1.6" fill="#222"/>
<rect x="480.6" y="814" width="4.6" height="17" fill="#eee" stroke="#111" stroke-width=".7"/>
<path d="M489.7,797.3 L497.7,799.6 L497.7,814.5 L491.2,812.6 L489.7,810.3 Z" fill="#c4c4c4" stroke="#222" stroke-width=".7" stroke-linejoin="round"/>
<path d="M497.7,799.6 L503.2,801.2 Q507.0,802.8 507.0,806.3 L507.0,812.3 Q506.7,815.9 503.2,815.9 L497.7,814.5 Z" fill="#9a9a9a" stroke="#222" stroke-width=".7" stroke-linejoin="round"/>
<path d="M500.0,814.9 L500.0,805.8 Q500.2,802.9 502.7,803.8 Q505.3,804.8 505.3,807.8 L505.3,814.8" fill="#d8d8d8" stroke="#222" stroke-width=".6"/>
<circle cx="502.7" cy="809.9" r="1.1" fill="#555"/>
<path d="M489.7,797.3 L491.7,795.7 L504.7,799.7 Q508.2,801.8 507.0,806.3 Q507.0,802.8 503.2,801.2 Z" fill="#e8e8e8" stroke="#222" stroke-width=".6" stroke-linejoin="round"/>
<path d="M489.7,832.8 L497.7,835.1 L497.7,850.0 L491.2,848.1 L489.7,845.8 Z" fill="#c4c4c4" stroke="#222" stroke-width=".7" stroke-linejoin="round"/>
<path d="M497.7,835.1 L503.2,836.7 Q507.0,838.3 507.0,841.8 L507.0,847.8 Q506.7,851.4 503.2,851.4 L497.7,850.0 Z" fill="#9a9a9a" stroke="#222" stroke-width=".7" stroke-linejoin="round"/>
<path d="M500.0,850.4 L500.0,841.3 Q500.2,838.4 502.7,839.3 Q505.3,840.3 505.3,843.3 L505.3,850.3" fill="#d8d8d8" stroke="#222" stroke-width=".6"/>
<circle cx="502.7" cy="845.4" r="1.1" fill="#555"/>
<path d="M489.7,832.8 L491.7,831.2 L504.7,835.2 Q508.2,837.3 507.0,841.8 Q507.0,838.3 503.2,836.7 Z" fill="#e8e8e8" stroke="#222" stroke-width=".6" stroke-linejoin="round"/>
<rect x="486.6" y="801" width="3.4" height="10" fill="#333"/><rect x="486.6" y="836.5" width="3.4" height="10" fill="#333"/>
<path class="b" d="M513.4,802.0 L517.4,802.1 L526.4,804.2 L526.4,807.2 L517.4,804.4 Z"/>
<ellipse class="b" cx="527.4" cy="806.0" rx="1.8" ry="3.1" transform="rotate(10 527.4 806.0)"/>
<path class="b" d="M513.4,820.3 L517.4,820.4 L526.4,822.5 L526.4,825.5 L517.4,822.7 Z"/>
<ellipse class="b" cx="527.4" cy="824.3" rx="1.8" ry="3.1" transform="rotate(10 527.4 824.3)"/>
<path class="b" d="M513.4,838.0 L517.4,838.1 L526.4,840.2 L526.4,843.2 L517.4,840.4 Z"/>
<ellipse class="b" cx="527.4" cy="842.0" rx="1.8" ry="3.1" transform="rotate(10 527.4 842.0)"/>
<path class="b" d="M513.4,855.8 L517.4,855.9 L526.4,858.0 L526.4,861.0 L517.4,858.2 Z"/>
<ellipse class="b" cx="527.4" cy="859.8" rx="1.8" ry="3.1" transform="rotate(10 527.4 859.8)"/>
<path class="g" d="M669.2,750.9 L679.7,754.7 L679.7,912.8 L669.2,908.0 Z" />
<line class="g" x1="669.2" y1="750.9" x2="725.2" y2="702.9" />
<line class="g" x1="679.7" y1="754.7" x2="738.6" y2="702.9" />
<path class="g" d="M679.7,912.8 L870.4,746.5 L870.4,702.9" />
<g opacity=".99"><text class="lbl" transform="translate(717.4,748.2) scale(.978,1.016)">H251</text><rect x="0" y="0" width="1" height="1" fill="none"/></g>
<line class="dd" x1="686.6" y1="784.6" x2="745.0" y2="800.8" />
<line class="dd" x1="686.6" y1="803.3" x2="745.0" y2="819.5" />
<line class="dd" x1="686.6" y1="821.2" x2="745.0" y2="837.4" />
<line class="dd" x1="686.6" y1="838.7" x2="745.0" y2="854.9" />
<line class="dd" x1="686.6" y1="857.3" x2="745.0" y2="873.5" />
<line class="dd" x1="686.6" y1="874.8" x2="745.0" y2="891.0" />
<circle cx="686.6" cy="784.6" r=".9" fill="#222"/>
<path d="M723.6,790.5 L726,787.6 L740.6,791.8 L740.6,796 L737.6,795.2 L737.6,793.6 L733.6,792.6 L733.6,818 L737.6,819 L737.6,817.6 L740.6,818.4 L740.6,824.4 L738.6,826.4 L726.6,823.4 L723.6,820.4 Z" fill="#a8a8a8" stroke="#222" stroke-width=".8" stroke-linejoin="round"/>
<path d="M726.4,793 L726.4,819.5 M729.6,794 L729.6,820.4" stroke="#555" stroke-width=".6" fill="none"/>
<path d="M723.6,790.5 L726,787.6 L740.6,791.8 L738,794.3 Z" fill="#ddd" stroke="#222" stroke-width=".7" stroke-linejoin="round"/>
<path d="M708.6,817.5 L710.6,816.0 L716.2,817.6 L716.2,885.0 L713.2,886.2 L708.6,884.2 Z" fill="#cfcfcf" stroke="#111" stroke-width="1.1" stroke-linejoin="round"/>
<path d="M716.2,817.6 L718.6,818.6 L718.6,822.2 L716.2,821.6" fill="#ddd" stroke="#111" stroke-width=".9" stroke-linejoin="round"/>
<rect x="709.2" y="819.5" width="7.8" height="10" fill="#2e2e2e" stroke="#111" stroke-width=".9"/>
<rect x="710.8" y="821.3" width="2.8" height="3" fill="#fff"/>
<rect x="714.0" y="825.5" width="2.2" height="3.4" fill="#fff"/>
<circle cx="711.8" cy="825.9" r="1.5" fill="#111"/>
<rect x="710.2" y="821.1" width="2.4" height="2.2" fill="#eee"/>
<rect x="709.2" y="828.1" width="7.8" height="1.6" fill="#222"/>
<rect x="709.2" y="832.0" width="7.8" height="14" fill="#8a8a8a" stroke="#111" stroke-width=".9"/>
<rect x="710.8" y="833.8" width="2.8" height="3" fill="#fff"/>
<rect x="714.0" y="838.0" width="2.2" height="3.4" fill="#fff"/>
<circle cx="711.8" cy="842.4" r="1.5" fill="#111"/>
<rect x="710.2" y="837.6" width="2.4" height="2.2" fill="#eee"/>
<rect x="709.2" y="844.6" width="7.8" height="1.6" fill="#222"/>
<rect x="709.2" y="867.0" width="7.8" height="16" fill="#8a8a8a" stroke="#111" stroke-width=".9"/>
<rect x="710.8" y="868.8" width="2.8" height="3" fill="#fff"/>
<rect x="714.0" y="873.0" width="2.2" height="3.4" fill="#fff"/>
<circle cx="711.8" cy="879.4" r="1.5" fill="#111"/>
<rect x="710.2" y="874.6" width="2.4" height="2.2" fill="#eee"/>
<rect x="709.2" y="881.6" width="7.8" height="1.6" fill="#222"/>
<rect x="710.6" y="848" width="4.4" height="18" fill="#eee" stroke="#111" stroke-width=".7"/>
<path d="M718.6,831.5 L726.6,833.8 L726.6,848.7 L720.1,846.8 L718.6,844.5 Z" fill="#c4c4c4" stroke="#222" stroke-width=".7" stroke-linejoin="round"/>
<path d="M726.6,833.8 L732.1,835.4 Q735.9,837.0 735.9,840.5 L735.9,846.5 Q735.6,850.1 732.1,850.1 L726.6,848.7 Z" fill="#9a9a9a" stroke="#222" stroke-width=".7" stroke-linejoin="round"/>
<path d="M728.9,849.1 L728.9,840.0 Q729.1,837.1 731.6,838.0 Q734.2,839.0 734.2,842.0 L734.2,849.0" fill="#d8d8d8" stroke="#222" stroke-width=".6"/>
<circle cx="731.6" cy="844.1" r="1.1" fill="#555"/>
<path d="M718.6,831.5 L720.6,829.9 L733.6,833.9 Q737.1,836.0 735.9,840.5 Q735.9,837.0 732.1,835.4 Z" fill="#e8e8e8" stroke="#222" stroke-width=".6" stroke-linejoin="round"/>
<path d="M718.6,867.3 L726.6,869.6 L726.6,884.5 L720.1,882.6 L718.6,880.3 Z" fill="#c4c4c4" stroke="#222" stroke-width=".7" stroke-linejoin="round"/>
<path d="M726.6,869.6 L732.1,871.2 Q735.9,872.8 735.9,876.3 L735.9,882.3 Q735.6,885.9 732.1,885.9 L726.6,884.5 Z" fill="#9a9a9a" stroke="#222" stroke-width=".7" stroke-linejoin="round"/>
<path d="M728.9,884.9 L728.9,875.8 Q729.1,872.9 731.6,873.8 Q734.2,874.8 734.2,877.8 L734.2,884.8" fill="#d8d8d8" stroke="#222" stroke-width=".6"/>
<circle cx="731.6" cy="879.9" r="1.1" fill="#555"/>
<path d="M718.6,867.3 L720.6,865.7 L733.6,869.7 Q737.1,871.8 735.9,876.3 Q735.9,872.8 732.1,871.2 Z" fill="#e8e8e8" stroke="#222" stroke-width=".6" stroke-linejoin="round"/>
<rect x="716" y="835" width="3" height="10" fill="#333"/><rect x="716" y="871" width="3" height="10" fill="#333"/>
<path class="b" d="M742.4,801.1 L746.4,801.2 L755.4,803.3 L755.4,806.3 L746.4,803.5 Z"/>
<ellipse class="b" cx="756.4" cy="805.1" rx="1.8" ry="3.1" transform="rotate(10 756.4 805.1)"/>
<path class="b" d="M742.4,818.9 L746.4,819.0 L755.4,821.1 L755.4,824.1 L746.4,821.3 Z"/>
<ellipse class="b" cx="756.4" cy="822.9" rx="1.8" ry="3.1" transform="rotate(10 756.4 822.9)"/>
<path class="b" d="M742.4,836.5 L746.4,836.6 L755.4,838.7 L755.4,841.7 L746.4,838.9 Z"/>
<ellipse class="b" cx="756.4" cy="840.5" rx="1.8" ry="3.1" transform="rotate(10 756.4 840.5)"/>
<path class="b" d="M742.4,854.7 L746.4,854.8 L755.4,856.9 L755.4,859.9 L746.4,857.1 Z"/>
<ellipse class="b" cx="756.4" cy="858.7" rx="1.8" ry="3.1" transform="rotate(10 756.4 858.7)"/>
<path class="b" d="M742.4,872.7 L746.4,872.8 L755.4,874.9 L755.4,877.9 L746.4,875.1 Z"/>
<ellipse class="b" cx="756.4" cy="876.7" rx="1.8" ry="3.1" transform="rotate(10 756.4 876.7)"/>
<path class="b" d="M742.4,890.6 L746.4,890.7 L755.4,892.8 L755.4,895.8 L746.4,893.0 Z"/>
<ellipse class="b" cx="756.4" cy="894.6" rx="1.8" ry="3.1" transform="rotate(10 756.4 894.6)"/>
</g>
</svg>
</body></html>
